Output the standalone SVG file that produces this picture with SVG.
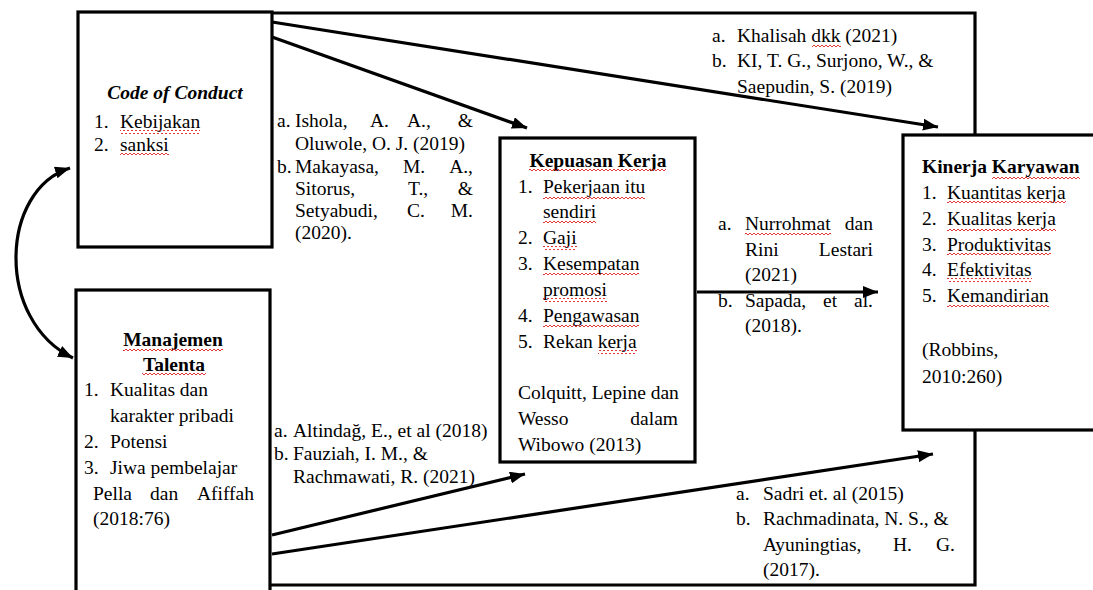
<svg xmlns="http://www.w3.org/2000/svg" width="1093" height="590" viewBox="0 0 1093 590">
<style>
.t{font-family:"Liberation Serif","Times New Roman",serif;font-size:19.5px;fill:#000}
.b{font-weight:bold}
.bi{font-weight:bold;font-style:italic}
.e{text-anchor:end}
.m{text-anchor:middle}
.box{fill:#fff;stroke:#000;stroke-width:3.2}
.conn{fill:none;stroke:#000;stroke-width:3.2}
.sq{fill:url(#sq)}
</style>
<defs>
<pattern id="sq" width="4" height="4" patternUnits="userSpaceOnUse">
<path d="M0,3 L2,1 L4,3" fill="none" stroke="#e02020" stroke-width="0.9"/>
</pattern>
<marker id="ah" markerUnits="userSpaceOnUse" markerWidth="16" markerHeight="12" refX="15" refY="6" orient="auto">
<path d="M0,0 L15,6 L0,12 z" fill="#000"/>
</marker>
<marker id="ahs" markerUnits="userSpaceOnUse" markerWidth="16" markerHeight="12" refX="15" refY="6" orient="auto-start-reverse">
<path d="M0,0 L15,6 L0,12 z" fill="#000"/>
</marker>
</defs>

<g id="connectors">
<polyline class="conn" points="272,13 975,13 975,135"/>
<polyline class="conn" points="975,430 975,585 270,585"/>
<line class="conn" x1="272" y1="22" x2="938" y2="127" marker-end="url(#ah)"/>
<line class="conn" x1="272" y1="37" x2="527" y2="128" marker-end="url(#ah)"/>
<line class="conn" x1="697" y1="292" x2="878" y2="292" marker-end="url(#ah)"/>
<line class="conn" x1="272" y1="535" x2="525" y2="474" marker-end="url(#ah)"/>
<line class="conn" x1="272" y1="554" x2="933" y2="454" marker-end="url(#ah)"/>
<path class="conn" d="M70,168 C0,190 -5,320 73,358" marker-start="url(#ahs)" marker-end="url(#ah)"/>
</g>

<g id="code-of-conduct">
<rect class="box" x="78" y="12" width="194" height="235"/>
<text class="t bi m" x="175" y="99">Code of Conduct</text>
<text class="t" x="94" y="128">1.</text><text class="t" x="120" y="128">Kebijakan</text>
<text class="t" x="94" y="151">2.</text><text class="t" x="120" y="151">sanksi</text>
<rect class="sq" x="120" y="130" width="80" height="4"/>
<rect class="sq" x="120" y="153" width="49" height="4"/>
</g>

<g id="manajemen-talenta">
<rect class="box" x="76" y="290" width="194" height="320"/>
<text class="t b m" x="173" y="346">Manajemen</text>
<text class="t b m" x="174" y="371">Talenta</text>
<rect class="sq" x="123" y="348" width="100" height="4"/>
<rect class="sq" x="142" y="373" width="64" height="4"/>
<text class="t" x="84" y="396">1.</text><text class="t" x="110" y="396">Kualitas dan</text>
<text class="t" x="110" y="422">karakter pribadi</text>
<text class="t" x="84" y="448">2.</text><text class="t" x="110" y="448">Potensi</text>
<text class="t" x="84" y="474">3.</text><text class="t" x="110" y="474">Jiwa pembelajar</text>
<text class="t" x="93" y="500">Pella</text><text class="t" x="150" y="500">dan</text><text class="t e" x="254" y="500">Afiffah</text>
<text class="t" x="93" y="525">(2018:76)</text>
</g>

<g id="kepuasan-kerja">
<rect class="box" x="500" y="138" width="195" height="324"/>
<text class="t b m" x="598" y="167">Kepuasan Kerja</text>
<rect class="sq" x="529" y="169" width="137" height="4"/>
<text class="t" x="518" y="193">1.</text><text class="t" x="543" y="193">Pekerjaan itu</text>
<text class="t" x="543" y="218">sendiri</text>
<text class="t" x="518" y="244">2.</text><text class="t" x="543" y="244">Gaji</text>
<text class="t" x="518" y="270">3.</text><text class="t" x="543" y="270">Kesempatan</text>
<text class="t" x="543" y="296">promosi</text>
<text class="t" x="518" y="322">4.</text><text class="t" x="543" y="322">Pengawasan</text>
<text class="t" x="518" y="348">5.</text><text class="t" x="543" y="348">Rekan kerja</text>
<rect class="sq" x="543" y="195" width="102" height="4"/>
<rect class="sq" x="543" y="220" width="53" height="4"/>
<rect class="sq" x="543" y="246" width="34" height="4"/>
<rect class="sq" x="543" y="272" width="96" height="4"/>
<rect class="sq" x="543" y="298" width="64" height="4"/>
<rect class="sq" x="543" y="324" width="96" height="4"/>
<rect class="sq" x="598" y="350" width="39" height="4"/>
<text class="t" x="518" y="399">Colquitt, Lepine dan</text>
<text class="t" x="518" y="425">Wesso</text><text class="t e" x="678" y="425">dalam</text>
<text class="t" x="518" y="451">Wibowo (2013)</text>
</g>

<g id="kinerja-karyawan">
<rect class="box" x="903" y="135" width="194" height="295"/>
<text class="t b" x="922" y="173">Kinerja Karyawan</text>
<rect class="sq" x="992" y="175" width="88" height="4"/>
<text class="t" x="922" y="199">1.</text><text class="t" x="947" y="199">Kuantitas kerja</text>
<text class="t" x="922" y="225">2.</text><text class="t" x="947" y="225">Kualitas kerja</text>
<text class="t" x="922" y="251">3.</text><text class="t" x="947" y="251">Produktivitas</text>
<text class="t" x="922" y="276">4.</text><text class="t" x="947" y="276">Efektivitas</text>
<text class="t" x="922" y="302">5.</text><text class="t" x="947" y="302">Kemandirian</text>
<rect class="sq" x="947" y="201" width="119" height="4"/>
<rect class="sq" x="947" y="227" width="109" height="4"/>
<rect class="sq" x="947" y="253" width="104" height="4"/>
<rect class="sq" x="947" y="278" width="85" height="4"/>
<rect class="sq" x="947" y="304" width="102" height="4"/>
<text class="t" x="922" y="356">(Robbins,</text>
<text class="t" x="922" y="383">2010:260)</text>
</g>

<g id="label-ishola">
<text class="t" x="277" y="127">a.</text><text class="t" x="295" y="127">Ishola,</text><text class="t" x="370" y="127">A.</text><text class="t" x="407" y="127">A.,</text><text class="t e" x="473" y="127">&amp;</text>
<text class="t" x="295" y="150">Oluwole, O. J. (2019)</text>
<text class="t" x="277" y="173">b.</text><text class="t" x="295" y="173">Makayasa,</text><text class="t" x="403" y="173">M.</text><text class="t e" x="473" y="173">A.,</text>
<text class="t" x="295" y="195">Sitorus,</text><text class="t" x="408" y="195">T.,</text><text class="t e" x="473" y="195">&amp;</text>
<text class="t" x="295" y="217">Setyabudi,</text><text class="t" x="407" y="217">C.</text><text class="t e" x="473" y="217">M.</text>
<text class="t" x="295" y="239">(2020).</text>
</g>

<g id="label-khalisah">
<text class="t" x="712" y="42">a.</text><text class="t" x="737" y="42">Khalisah dkk (2021)</text>
<rect class="sq" x="812" y="44" width="29" height="4"/>
<text class="t" x="712" y="67">b.</text><text class="t" x="737" y="67">KI, T. G., Surjono, W., &amp;</text>
<text class="t" x="737" y="93">Saepudin, S. (2019)</text>
</g>

<g id="label-nurrohmat">
<text class="t" x="718" y="230">a.</text><text class="t" x="745" y="230">Nurrohmat</text><text class="t e" x="873" y="230">dan</text>
<rect class="sq" x="745" y="232" width="86" height="4"/>
<text class="t" x="745" y="256">Rini</text><text class="t e" x="873" y="256">Lestari</text>
<text class="t" x="745" y="281">(2021)</text>
<text class="t" x="718" y="307">b.</text><text class="t" x="745" y="307">Sapada,</text><text class="t" x="823" y="307">et</text><text class="t e" x="873" y="307">al.</text>
<text class="t" x="745" y="332">(2018).</text>
</g>

<g id="label-altindag">
<text class="t" x="274" y="437">a.</text><text class="t" x="293" y="437">Altindağ, E., et al (2018)</text>
<text class="t" x="274" y="460">b.</text><text class="t" x="293" y="460">Fauziah, I. M., &amp;</text>
<text class="t" x="293" y="483">Rachmawati, R. (2021)</text>
</g>

<g id="label-sadri">
<text class="t" x="736" y="500">a.</text><text class="t" x="763" y="500">Sadri et. al (2015)</text>
<text class="t" x="736" y="525">b.</text><text class="t" x="763" y="525">Rachmadinata, N. S., &amp;</text>
<text class="t" x="763" y="551">Ayuningtias,</text><text class="t" x="893" y="551">H.</text><text class="t e" x="955" y="551">G.</text>
<text class="t" x="763" y="576">(2017).</text>
</g>
</svg>
